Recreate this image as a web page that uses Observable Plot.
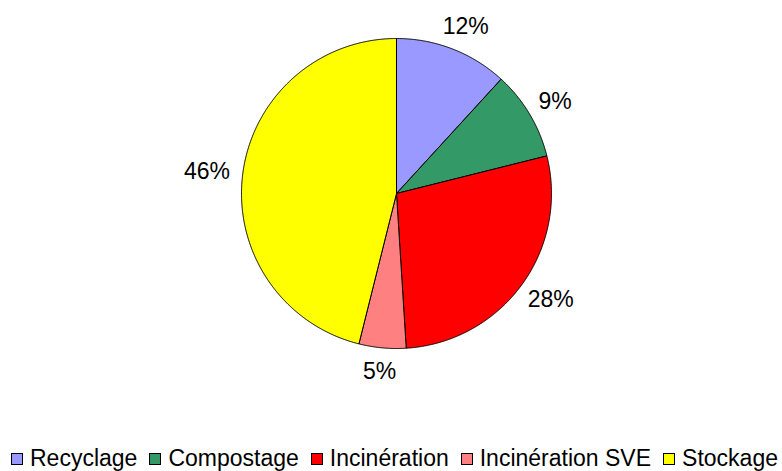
<!DOCTYPE html>
<html><head><meta charset="utf-8">
<script src="https://cdn.jsdelivr.net/npm/d3@7"></script>
<script src="https://cdn.jsdelivr.net/npm/@observablehq/plot@0.6"></script>
<style>
body{margin:0;background:#fff;font-family:"Liberation Sans",Arial,sans-serif;}
#chart svg{display:block;}
#legend{display:flex;justify-content:flex-start;align-items:center;height:25px;font-size:23px;color:#000;white-space:nowrap;padding-left:11px;}
.item{display:flex;align-items:center;margin-right:12px;}
.sw{width:10px;height:10px;border:1px solid #000;margin-right:7px;flex:none;}
</style></head><body><div id="chart"></div><div id="legend"></div>
<script>
const categories = ["Recyclage", "Compostage", "Incinération", "Incinération SVE", "Stockage"];
const values = [11.8, 9.3, 27.9, 4.9, 46.1];
const labels = ["12%", "9%", "28%", "5%", "46%"];
const colors = ["#9999FF", "#339966", "#FF0000", "#FF8080", "#FFFF00"];

const W = 782, H = 446, cx = 396, cy = 193, R = 155, FS = 23;
const arcs = d3.pie().sort(null).value(d => d)(values);

const poly = [];
arcs.forEach((p, i) => {
  const cat = categories[i];
  poly.push({cat, x: 0, y: 0});
  const n = Math.max(2, Math.ceil((p.endAngle - p.startAngle) / 0.005));
  for (let k = 0; k <= n; k++) {
    const a = p.startAngle + (p.endAngle - p.startAngle) * k / n;
    poly.push({cat, x: Math.sin(a), y: -Math.cos(a)});
  }
  poly.push({cat, x: 0, y: 0});
});

const lab = arcs.map((p, i) => {
  const a = (p.startAngle + p.endAngle) / 2;
  const r0 = 168 / R;
  const w = FS * (0.556 * (labels[i].length - 1) + 0.889);
  const h = 22;
  return {
    label: labels[i],
    x: r0 * Math.sin(a) + (w / 2) * Math.sin(a) / R,
    y: -r0 * Math.cos(a) - (h / 2) * Math.cos(a) / R
  };
});

const plot = Plot.plot({
  width: W, height: H, margin: 0,
  style: {fontFamily: "Liberation Sans, Arial, sans-serif", background: "#fff"},
  x: {domain: [-cx / R, (W - cx) / R], range: [0, W], axis: null},
  y: {domain: [-cy / R, (H - cy) / R], range: [0, H], axis: null},
  color: {domain: categories, range: colors},
  marks: [
    Plot.line(poly, {x: "x", y: "y", z: "cat", fill: "cat", stroke: "#000", strokeWidth: 1, strokeLinejoin: "round"}),
    Plot.text(lab, {x: "x", y: "y", text: "label", fontSize: FS, fill: "#000"})
  ]
});
document.getElementById("chart").appendChild(plot);

const legend = document.getElementById("legend");
categories.forEach((c, i) => {
  const item = document.createElement("div");
  item.className = "item";
  const sw = document.createElement("span");
  sw.className = "sw";
  sw.style.background = colors[i];
  const t = document.createElement("span");
  t.textContent = c;
  item.appendChild(sw);
  item.appendChild(t);
  legend.appendChild(item);
});
</script></body></html>
